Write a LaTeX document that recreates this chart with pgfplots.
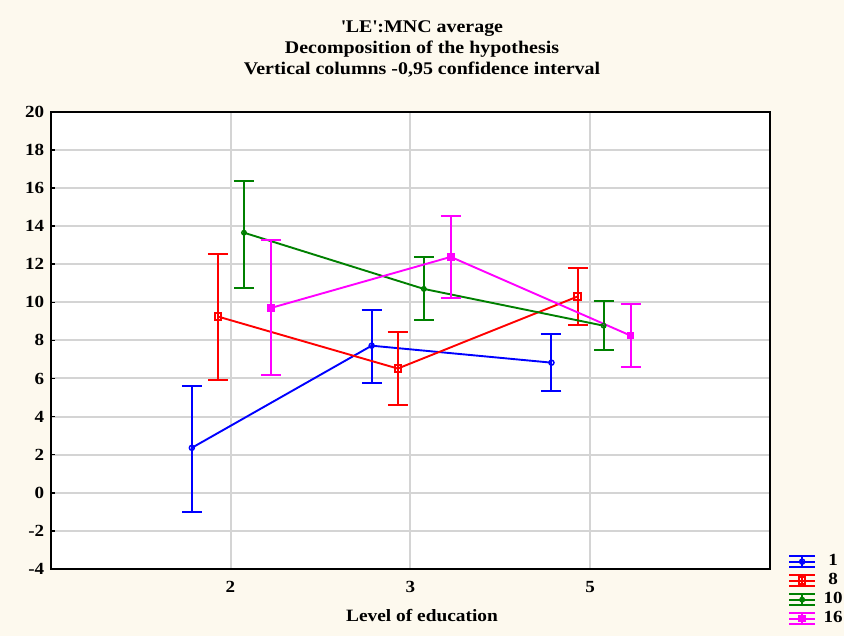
\documentclass[border=0pt]{standalone}
\usepackage{fontspec}
\setmainfont[FakeStretch=1.12]{Liberation Serif}
\usepackage{pgfplots}
\usepackage{pgfplotstable}
\pgfplotsset{compat=1.18}
\definecolor{bg}{RGB}{253,249,238}
\definecolor{gridc}{RGB}{212,212,212}
\definecolor{sblue}{RGB}{0,0,255}
\definecolor{sred}{RGB}{255,0,0}
\definecolor{sgreen}{RGB}{0,128,0}
\definecolor{smag}{RGB}{255,0,255}

\pgfplotstableread{
x y ep em
-0.215 2.36 3.24 3.36
0.785 7.72 1.88 1.98
1.785 6.83 1.48 1.49
}\blue
\pgfplotstableread{
x y ep em
-0.07 9.25 3.26 3.35
0.93 6.52 1.93 1.92
1.93 10.30 1.48 1.51
}\red
\pgfplotstableread{
x y ep em
0.075 13.65 2.71 2.89
1.075 10.70 1.67 1.65
2.075 8.77 1.29 1.30
}\green
\pgfplotstableread{
x y ep em
0.225 9.70 3.55 3.54
1.225 12.38 2.14 2.14
2.225 8.25 1.67 1.64
}\magenta

\begin{document}
\begin{tikzpicture}[x=1pt,y=1pt]
\useasboundingbox (0,0) rectangle (844,636);
\fill[bg] (0,0) rectangle (844,636);
\begin{axis}[
  at={(230.5pt,143.2pt)}, anchor=origin, scale only axis,
  width=719.3pt, height=457.3pt,
  xmin=-1, xmax=3, ymin=-4, ymax=20,
  xtick={0,1,2}, xticklabels={2,3,5},
  ytick={-4,-2,...,20},
  axis background/.style={fill=white},
  grid=major, major grid style={gridc, line width=2pt},
  axis line style={line width=2.2pt},
  ytick style={black, line width=1.5pt},
  xtick style={draw=none},
  ytick pos=left, major tick length=4pt,
  /pgf/number format/assume math mode=true,
  tick label style={font=\bfseries\fontsize{17}{19}\selectfont},
  xticklabel style={yshift=-9pt},
  yticklabel style={xshift=-3pt},
  error bars/y dir=both, error bars/y explicit,
  error bars/error bar style={line width=2pt, solid},
  error bars/error mark options={rotate=90, line width=2pt, mark size=10pt, solid},
  legend style={at={(1.025,0.034)}, anchor=north west, draw=none, fill=none,
    font=\bfseries\fontsize{17}{19}\selectfont, inner sep=0pt, row sep=3pt,
    nodes={inner sep=0pt, text height=12pt, text depth=4pt},
    legend cell align=left},
  legend image code/.code={
    \draw[#1, line width=2pt, mark=none] (0pt,5.5pt)--(26pt,5.5pt) (0pt,-5.5pt)--(26pt,-5.5pt) (13pt,-5.5pt)--(13pt,5.5pt);
    \draw[#1, line width=2pt, mark=none] (0pt,0pt)--(26pt,0pt);
    \draw[#1] plot coordinates {(13pt,0pt)};
  },
]
\addplot[sblue, line width=1.9pt, mark=o, mark size=2.5pt, mark options={fill=white, line width=1.5pt}]
  table[x=x, y=y, y error plus=ep, y error minus=em] {\blue};
\addlegendentry{\hspace*{7pt}\makebox[20pt]{1}}
\addplot[sred, line width=1.9pt, mark=square, mark size=3.2pt, mark options={fill=white, line width=2pt}]
  table[x=x, y=y, y error plus=ep, y error minus=em] {\red};
\addlegendentry{\hspace*{7pt}\makebox[20pt]{8}}
\addplot[sgreen, line width=1.9pt, mark=o, mark size=2.2pt, mark options={fill=white, line width=1.5pt}]
  table[x=x, y=y, y error plus=ep, y error minus=em] {\green};
\addlegendentry{\hspace*{7pt}\makebox[20pt]{10}}
\addplot[smag, line width=1.9pt, mark=square*, mark size=2.8pt]
  table[x=x, y=y, y error plus=ep, y error minus=em] {\magenta};
\addlegendentry{\hspace*{7pt}\makebox[20pt]{16}}
\end{axis}
\node[anchor=base, align=center, font=\bfseries\fontsize{17.8}{21}\selectfont] at (422,561)
  {\textquotesingle LE\textquotesingle:MNC average\\Decomposition of the hypothesis\\Vertical columns -0,95 confidence interval};
\node[anchor=base, font=\bfseries\fontsize{17.3}{20}\selectfont] at (422,14) {Level of education};
\end{tikzpicture}
\end{document}
